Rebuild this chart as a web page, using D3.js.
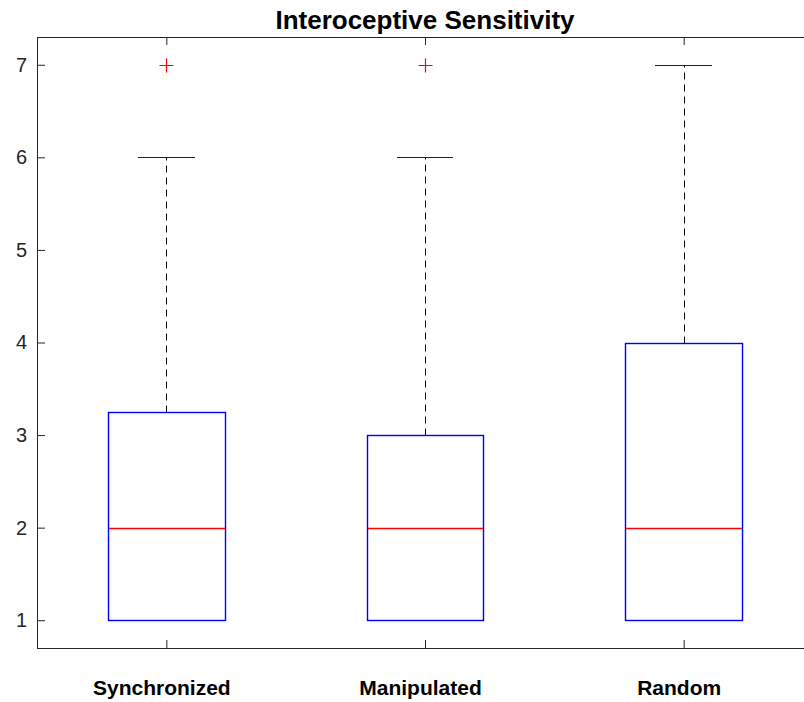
<!DOCTYPE html>
<html>
<head>
<meta charset="utf-8">
<script src="https://cdn.jsdelivr.net/npm/d3@7"></script>
<style>
  body { margin: 0; background: #fff; }
  svg { display: block; }
  text { font-family: "Liberation Sans", Arial, sans-serif; }
</style>
</head>
<body>
<div id="chart"></div>
<script>
// box statistics
var groups = ["Synchronized", "Manipulated", "Random"];
var q1 = [1, 1, 1];
var medians = [2, 2, 2];
var q3 = [3.25, 3, 4];
var whiskerLow = [1, 1, 1];
var whiskerHigh = [6, 6, 7];
var outliers = [[7], [7], []];
var yTicks = [1, 2, 3, 4, 5, 6, 7];

(function () {
  var width = 804, height = 702;
  var padLeft = 37, padRight = 813, padTop = 37, padBottom = 648;
  var axisColor = "#262626";

  var svg = d3.select("#chart")
    .append("svg")
    .attr("width", width)
    .attr("height", height);

  // scales: x in group index units (0.5 .. 3.5), y in value units
  var xScale = d3.scaleLinear().domain([0.5, 3.5]).range([padLeft, padRight]);
  var yScale = d3.scaleLinear().domain([0.7, 7.3]).range([padBottom, padTop]);
  var boxHalf = 0.225, capHalf = 0.11;
  // snap to pixel centres so 1px lines stay crisp
  function px(v) { return Math.round(v) + 0.5; }

  // title
  svg.append("text")
    .attr("x", (padLeft + padRight) / 2)
    .attr("y", 29)
    .attr("text-anchor", "middle")
    .style("font-size", "26px")
    .style("font-weight", "bold")
    .style("fill", "#000")
    .text("Interoceptive Sensitivity");

  // left axis (ticks inward)
  var yAxis = d3.axisLeft(yScale)
    .tickValues(yTicks)
    .tickSizeInner(-8)
    .tickSizeOuter(0)
    .tickPadding(10)
    .tickFormat(d3.format("d"));
  var yg = svg.append("g")
    .attr("transform", "translate(" + padLeft + ",0)")
    .call(yAxis);
  yg.select(".domain").remove();
  yg.selectAll("line").attr("stroke", axisColor);
  yg.selectAll("text")
    .style("font-size", "20px")
    .style("font-family", "'Liberation Sans', Arial, sans-serif")
    .attr("fill", axisColor);

  // right axis ticks, no labels
  var yAxisR = d3.axisRight(yScale)
    .tickValues(yTicks)
    .tickSizeInner(-8)
    .tickSizeOuter(0)
    .tickFormat("");
  var ygr = svg.append("g")
    .attr("transform", "translate(" + padRight + ",0)")
    .call(yAxisR);
  ygr.select(".domain").remove();
  ygr.selectAll("line").attr("stroke", axisColor);

  // bottom axis with group labels
  var xAxis = d3.axisBottom(xScale)
    .tickValues([1, 2, 3])
    .tickSizeInner(-8)
    .tickSizeOuter(0)
    .tickPadding(32)
    .tickFormat(function (d) { return groups[d - 1]; });
  var xg = svg.append("g")
    .attr("transform", "translate(0," + padBottom + ")")
    .call(xAxis);
  xg.select(".domain").remove();
  xg.selectAll("line").attr("stroke", axisColor);
  xg.selectAll("text")
    .attr("dx", -5)
    .style("font-size", "21px")
    .style("font-weight", "bold")
    .style("font-family", "'Liberation Sans', Arial, sans-serif")
    .attr("fill", "#000");

  // top axis ticks
  var xAxisT = d3.axisTop(xScale)
    .tickValues([1, 2, 3])
    .tickSizeInner(-8)
    .tickSizeOuter(0)
    .tickFormat("");
  var xgt = svg.append("g")
    .attr("transform", "translate(0," + padTop + ")")
    .call(xAxisT);
  xgt.select(".domain").remove();
  xgt.selectAll("line").attr("stroke", axisColor);

  // axes frame
  svg.append("rect")
    .attr("x", padLeft + 0.5)
    .attr("y", padTop + 0.5)
    .attr("width", padRight - padLeft)
    .attr("height", padBottom - padTop)
    .attr("fill", "none")
    .attr("stroke", axisColor)
    .attr("stroke-width", 1);

  var idx = groups.map(function (g, i) { return i; });
  var plot = svg.append("g");

  // whiskers
  function whiskers(from, to) {
    plot.append("g").selectAll("line")
      .data(idx.filter(function (i) { return from[i] !== to[i]; }))
      .enter().append("line")
      .attr("x1", function (i) { return px(xScale(i + 1)); })
      .attr("x2", function (i) { return px(xScale(i + 1)); })
      .attr("y1", function (i) { return px(yScale(from[i])); })
      .attr("y2", function (i) { return px(yScale(to[i])); })
      .attr("stroke", "#000")
      .attr("stroke-dasharray", "7,5");
  }
  whiskers(q3, whiskerHigh);
  whiskers(q1, whiskerLow);

  // caps
  function caps(values) {
    plot.append("g").selectAll("line")
      .data(idx).enter().append("line")
      .attr("x1", function (i) { return Math.round(xScale(i + 1 - capHalf)); })
      .attr("x2", function (i) { return Math.round(xScale(i + 1 + capHalf)); })
      .attr("y1", function (i) { return px(yScale(values[i])); })
      .attr("y2", function (i) { return px(yScale(values[i])); })
      .attr("stroke", "#222");
  }
  caps(whiskerHigh);
  caps(whiskerLow);

  // boxes (drawn over the lower caps, as in the figure)
  plot.append("g").selectAll("rect")
    .data(idx).enter().append("rect")
    .attr("x", function (i) { return px(xScale(i + 1 - boxHalf)); })
    .attr("y", function (i) { return px(yScale(q3[i])); })
    .attr("width", function (i) { return Math.round(xScale(i + 1 + boxHalf)) - Math.round(xScale(i + 1 - boxHalf)); })
    .attr("height", function (i) { return Math.round(yScale(q1[i])) - Math.round(yScale(q3[i])); })
    .attr("fill", "none")
    .attr("stroke", "#0000ff")
    .attr("stroke-width", 1.4);

  // medians
  plot.append("g").selectAll("line")
    .data(idx).enter().append("line")
    .attr("x1", function (i) { return Math.round(xScale(i + 1 - boxHalf)) + 1; })
    .attr("x2", function (i) { return Math.round(xScale(i + 1 + boxHalf)); })
    .attr("y1", function (i) { return px(yScale(medians[i])); })
    .attr("y2", function (i) { return px(yScale(medians[i])); })
    .attr("stroke", "#ff0000")
    .attr("stroke-width", 1.4);

  // outliers as red plus marks
  var pts = [];
  outliers.forEach(function (arr, i) {
    arr.forEach(function (v) { pts.push({ g: i, v: v }); });
  });
  plot.append("g").selectAll("path")
    .data(pts).enter().append("path")
    .attr("d", function (d) {
      var cx = px(xScale(d.g + 1)), cy = px(yScale(d.v));
      return "M" + (cx - 7) + "," + cy + "H" + (cx + 7) + "M" + cx + "," + (cy - 7) + "V" + (cy + 7);
    })
    .attr("stroke", "#ff0000")
    .attr("stroke-width", 1.2)
    .attr("fill", "none");
})();
</script>
</body>
</html>
